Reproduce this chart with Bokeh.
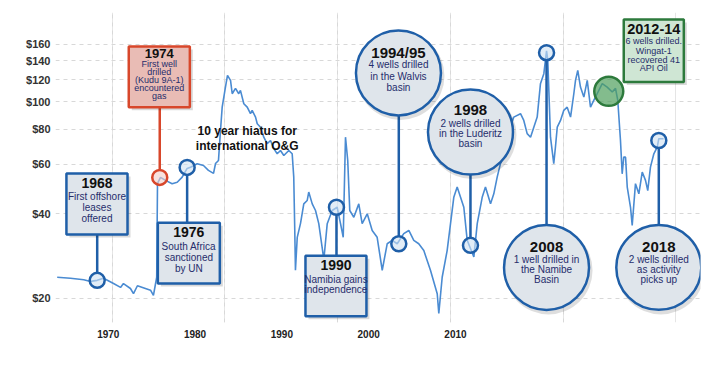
import numpy as np
from bokeh.plotting import figure
from bokeh.models import (Range1d, LinearAxis, FixedTicker, Grid, PrintfTickFormatter,
                          ColumnDataSource)
from bokeh.core.properties import value
from bokeh.embed import file_html
from bokeh.resources import INLINE

# ---------------- data (inflation-adjusted crude oil price) -------------
PRICE_YEARS = [
    1965.12, 1966.30, 1967.48, 1968.07, 1968.67, 1969.23, 1970.12, 1970.74, 1971.00, 1971.62,
    1971.89, 1972.24, 1973.40, 1973.66, 1973.95, 1974.02, 1974.29, 1974.73, 1975.32, 1975.77,
    1976.21, 1976.65, 1976.95, 1977.54, 1978.10, 1978.54, 1978.99, 1979.17, 1979.43, 1979.61,
    1979.76, 1980.05, 1980.23, 1980.50, 1980.65, 1980.94, 1981.23, 1981.38, 1981.68, 1981.98,
    1982.27, 1982.42, 1982.72, 1982.87, 1983.16, 1983.45, 1983.75, 1984.05, 1984.34, 1984.64,
    1984.93, 1985.23, 1985.67, 1985.97, 1986.11, 1986.20, 1986.26, 1986.42, 1986.71, 1987.00,
    1987.30, 1987.44, 1987.75, 1988.04, 1988.33, 1988.78, 1989.08, 1989.52, 1989.96, 1990.26,
    1990.50, 1990.70, 1990.90, 1991.08, 1991.44, 1991.88, 1992.18, 1992.63, 1993.07, 1993.51,
    1993.96, 1994.40, 1994.84, 1995.29, 1995.87, 1996.32, 1996.76, 1997.20, 1997.65, 1998.24,
    1998.84, 1998.98, 1999.28, 1999.72, 2000.31, 2000.61, 2000.91, 2001.20, 2001.50, 2001.79,
    2002.09, 2002.39, 2002.83, 2003.12, 2003.57, 2003.86, 2004.16, 2004.45, 2004.75, 2005.05,
    2005.19, 2005.63, 2006.23, 2006.52, 2006.82, 2007.12, 2007.41, 2007.71, 2008.00, 2008.30,
    2008.54, 2008.65, 2008.89, 2009.18, 2009.33, 2009.49, 2009.78, 2010.07, 2010.37, 2010.67,
    2010.96, 2011.11, 2011.31, 2011.55, 2011.85, 2012.15, 2012.44, 2012.73, 2013.03, 2013.48,
    2013.92, 2014.37, 2014.66, 2014.86, 2015.10, 2015.25, 2015.39, 2015.55, 2015.70, 2015.99,
    2016.14, 2016.43, 2016.73, 2017.03, 2017.32, 2017.52, 2017.76, 2018.06, 2018.36, 2018.50,
    2018.92,
]
PRICES = [
    23.8, 23.6, 23.3, 23.0, 23.2, 23.6, 22.6, 21.9, 22.6, 21.7,
    20.8, 22.2, 21.4, 20.5, 23.8, 51.3, 53.9, 52.6, 51.2, 51.8,
    54.0, 58.0, 58.6, 60.3, 59.4, 57.1, 55.7, 60.4, 61.9, 79.2,
    95.8, 112.9, 124.2, 119.2, 106.9, 111.7, 106.9, 109.9, 98.5, 95.8,
    90.8, 93.3, 88.3, 83.6, 81.3, 74.9, 71.0, 72.9, 68.2, 65.4,
    67.2, 64.5, 67.2, 65.4, 54.0, 34.9, 25.2, 33.0, 37.0, 43.4,
    44.6, 47.8, 43.4, 41.1, 36.9, 27.5, 36.9, 41.1, 42.2, 36.9,
    33.0, 74.9, 61.9, 41.1, 38.9, 43.4, 36.9, 40.0, 34.9, 33.0,
    25.2, 31.3, 32.2, 31.3, 34.0, 34.9, 32.2, 31.3, 29.6, 25.2,
    20.8, 17.7, 23.8, 29.6, 45.8, 49.8, 45.8, 42.2, 32.2, 30.1,
    28.1, 36.9, 45.8, 49.8, 43.4, 47.1, 54.0, 60.3, 65.4, 69.1,
    79.2, 88.3, 90.8, 85.9, 77.1, 74.9, 81.3, 88.3, 116.1, 126.0,
    152.0, 140.5, 74.9, 60.3, 69.1, 81.3, 85.9, 93.3, 95.8, 88.3,
    106.9, 119.2, 129.4, 112.9, 104.0, 119.2, 95.8, 101.2, 106.9, 116.1,
    112.9, 108.4, 111.7, 101.2, 72.9, 55.5, 63.6, 63.6, 49.8, 42.2,
    36.4, 51.2, 47.1, 56.3, 52.6, 48.4, 58.6, 65.4, 69.1, 74.0,
    74.0,
]

Y_TICKS = [20, 40, 60, 80, 100, 120, 140, 160]
DECADES = [1970, 1980, 1990, 2000, 2010]
X_TICK_LABELS = [1970, 1980, 1990, 2000, 2010]

# events: title, note lines, marker position on the series
EVENT_TITLES = ["1968", "1974", "1976", "1990", "1994/95", "1998", "2008", "2018", "2012-14"]
EVENT_NOTES = [
    ["First offshore", "leases", "offered"],
    ["First well", "drilled", "(Kudu 9A-1)", "encountered", "gas"],
    ["South Africa", "sanctioned", "by UN"],
    ["Namibia gains", "independence"],
    ["4 wells drilled", "in the Walvis", "basin"],
    ["2 wells drilled", "in the Luderitz", "basin"],
    ["1 well drilled in", "the Namibe", "Basin"],
    ["2 wells drilled", "as activity", "picks up"],
    ["6 wells drilled.", "Wingat-1", "recovered 41", "API Oil"],
]
MARKER_YEARS = [1968.67, 1974.22, 1976.65, 1989.90, 1995.43, 2001.79, 2008.54, 2018.50, 2014.06]
MARKER_PRICES = [23.2, 53.9, 58.5, 42.2, 31.3, 30.9, 149.6, 72.9, 109.0]

HIATUS_TEXT = ["10 year hiatus for", "international O&G"]

# ---------------- layout ----------------
PX_PER_LN = 254 / np.log(8)     # pixels per natural-log unit on the price axis
PX_PER_YEAR = 11.27


def shift(price, px):
    """move a price value px pixels down (positive) on the log axis"""
    return price * np.exp(-px / PX_PER_LN)


THEMES = {
    "blue": dict(line="#1f5fa8", fill="#dfe5eb", marker="#cfe1f2"),
    "red": dict(line="#d8472b", fill="#e9bcb5", marker="#f4cfc8"),
    "green": dict(line="#2d7a3c", fill="#cfe6d4", marker="#4f9f5c"),
}
# callout shape per event: box (left, right, top, bottom) or circle (x, y)
CALLOUTS = [
    dict(kind="box", theme="blue", box=(1965.94, 1971.36, 55.7, 33.8),
         dy=[-20.5, -7.5, 3.5, 14.5], tsize=14, nsize=10),
    dict(kind="box", theme="red", box=(1971.47, 1976.89, 157.5, 95.8),
         dy=[-23, -13, -4.7, 3.2, 11.4, 19.5], tsize=13, nsize=9),
    dict(kind="box", theme="blue", box=(1974.05, 1979.55, 37.2, 22.6),
         dy=[-21, -6.8, 4.5, 15.5], tsize=14, nsize=10),
    dict(kind="box", theme="blue", box=(1987.15, 1992.56, 28.4, 17.3),
         dy=[-21.2, -6.2, 3.8], tsize=14, nsize=10),
    dict(kind="circle", theme="blue", center=(1995.40, 126.8),
         dy=[-20.8, -8.2, 3.2, 14.5], tsize=15, nsize=10),
    dict(kind="circle", theme="blue", center=(2001.79, 78.1),
         dy=[-21.7, -8.4, 1.6, 11.2], tsize=15, nsize=10),
    dict(kind="circle", theme="blue", center=(2008.54, 25.8),
         dy=[-20.7, -7.4, 2.6, 12.6], tsize=15, nsize=10),
    dict(kind="circle", theme="blue", center=(2018.50, 25.8),
         dy=[-20.7, -7.4, 2.6, 12.6], tsize=15, nsize=10),
    dict(kind="box", theme="green", box=(2015.39, 2020.72, 196.5, 117.6),
         dy=[-22, -9.7, 0.3, 8.8, 17.4], tsize=14.5, nsize=9),
]

FONT = "Liberation Sans"
NOTE_COLOR = "#262d6b"

p = figure(width=717, height=359, output_backend="svg", toolbar_location=None,
           x_range=Range1d(1964.97, 2022.2), y_range=Range1d(16.43, 207.9),
           y_axis_type="log", x_axis_location=None,
           min_border_left=55, min_border_right=17, min_border_top=12, min_border_bottom=37)
p.outline_line_color = None
p.background_fill_color = "white"

# y axis
p.yaxis.ticker = FixedTicker(ticks=Y_TICKS)
p.yaxis.formatter = PrintfTickFormatter(format="$%d")
p.yaxis.axis_line_color = None
p.yaxis.major_tick_line_color = None
p.yaxis.minor_tick_line_color = None
p.yaxis.major_tick_out = 0
p.yaxis.major_label_standoff = 5
p.yaxis.major_label_text_font = FONT
p.yaxis.major_label_text_font_style = "bold"
p.yaxis.major_label_text_font_size = "11px"
p.yaxis.major_label_text_color = "#333333"
p.ygrid.grid_line_color = "#d8d8d8"
p.ygrid.grid_line_dash = "4 4"
p.ygrid.ticker = FixedTicker(ticks=Y_TICKS)

# vertical decade grid
vgrid = Grid(dimension=0, ticker=FixedTicker(ticks=DECADES),
             grid_line_color="#d8d8d8", grid_line_dash="4 4")
p.add_layout(vgrid)

# bottom year labels (as placed in the original graphic)
p.extra_x_ranges = {"lbl": Range1d(1963.92, 2038.23)}
lbl_axis = LinearAxis(x_range_name="lbl", ticker=FixedTicker(ticks=X_TICK_LABELS))
lbl_axis.axis_line_color = None
lbl_axis.major_tick_line_color = None
lbl_axis.minor_tick_line_color = None
lbl_axis.major_tick_out = 0
lbl_axis.major_label_standoff = 7
lbl_axis.major_label_text_font = FONT
lbl_axis.major_label_text_font_style = "bold"
lbl_axis.major_label_text_font_size = "10px"
lbl_axis.major_label_text_color = "#222222"
p.add_layout(lbl_axis, "below")

# price line
p.line(PRICE_YEARS, PRICES, line_color="#4a8bd2", line_width=1.6)

# connectors
MARK_R = 7.5
for i, c in enumerate(CALLOUTS):
    if c["theme"] == "green":
        continue
    th = THEMES[c["theme"]]
    mx, my = MARKER_YEARS[i], MARKER_PRICES[i]
    if c["kind"] == "box":
        l, r, t, b = c["box"]
        cy = np.sqrt(t * b)
    else:
        cy = c["center"][1]
    y0 = shift(my, -MARK_R) if cy > my else shift(my, MARK_R)
    p.segment(x0=[mx], y0=[y0], x1=[mx], y1=[cy], line_color=th["line"], line_width=2.5)

# markers on the series
for i, c in enumerate(CALLOUTS):
    th = THEMES[c["theme"]]
    if c["theme"] == "green":
        p.scatter([MARKER_YEARS[i]], [MARKER_PRICES[i]], size=29, marker="circle",
                  fill_color=th["marker"], fill_alpha=0.7, line_color=th["line"], line_width=2.5)
    else:
        p.scatter([MARKER_YEARS[i]], [MARKER_PRICES[i]], size=2 * MARK_R, marker="circle",
                  fill_color=th["marker"], fill_alpha=0.6, line_color=th["line"], line_width=2.5)

# callout shapes (with soft shadow)
SH = 3
for c in CALLOUTS:
    th = THEMES[c["theme"]]
    if c["kind"] == "box":
        l, r, t, b = c["box"]
        p.quad(left=[l + SH / PX_PER_YEAR], right=[r + SH / PX_PER_YEAR],
               top=[shift(t, SH)], bottom=[shift(b, SH)],
               fill_color="#000000", fill_alpha=0.15, line_color=None)
        p.quad(left=[l], right=[r], top=[t], bottom=[b], fill_color=th["fill"],
               line_color=th["line"], line_width=2.5)
    else:
        cx, cy = c["center"]
        p.scatter([cx + 2 / PX_PER_YEAR], [shift(cy, 3)], size=88, marker="circle",
                  fill_color="#000000", fill_alpha=0.13, line_color=None)
        p.scatter([cx], [cy], size=85, marker="circle", fill_color=th["fill"],
                  line_color=th["line"], line_width=2.5)

# callout texts
tx, ty, tt, ts, tst, tc = [], [], [], [], [], []
for i, c in enumerate(CALLOUTS):
    if c["kind"] == "box":
        l, r, t, b = c["box"]
        cx, cy = (l + r) / 2, np.sqrt(t * b)
    else:
        cx, cy = c["center"]
    lines = [EVENT_TITLES[i]] + EVENT_NOTES[i]
    for j, (txt, d) in enumerate(zip(lines, c["dy"])):
        tx.append(cx)
        ty.append(shift(cy, d))
        tt.append(txt)
        ts.append(f"{c['tsize'] if j == 0 else c['nsize']}px")
        tst.append("bold" if j == 0 else "normal")
        tc.append("#111111" if j == 0 else NOTE_COLOR)

src = ColumnDataSource(dict(x=tx, y=ty, text=tt, size=ts, style=tst, color=tc))
p.text(x="x", y="y", text="text", source=src, text_font=value(FONT),
       text_font_size="size", text_font_style="style", text_color="color",
       text_align="center", text_baseline="middle")

# hiatus note
p.text(x=[1981.98, 1981.98], y=[78.5, 69.5], text=HIATUS_TEXT, text_font=value(FONT),
       text_font_size=value("12px"), text_font_style="bold", text_color="#111111",
       text_align="center", text_baseline="middle")

open("out.html", "w").write(file_html(p, INLINE))
